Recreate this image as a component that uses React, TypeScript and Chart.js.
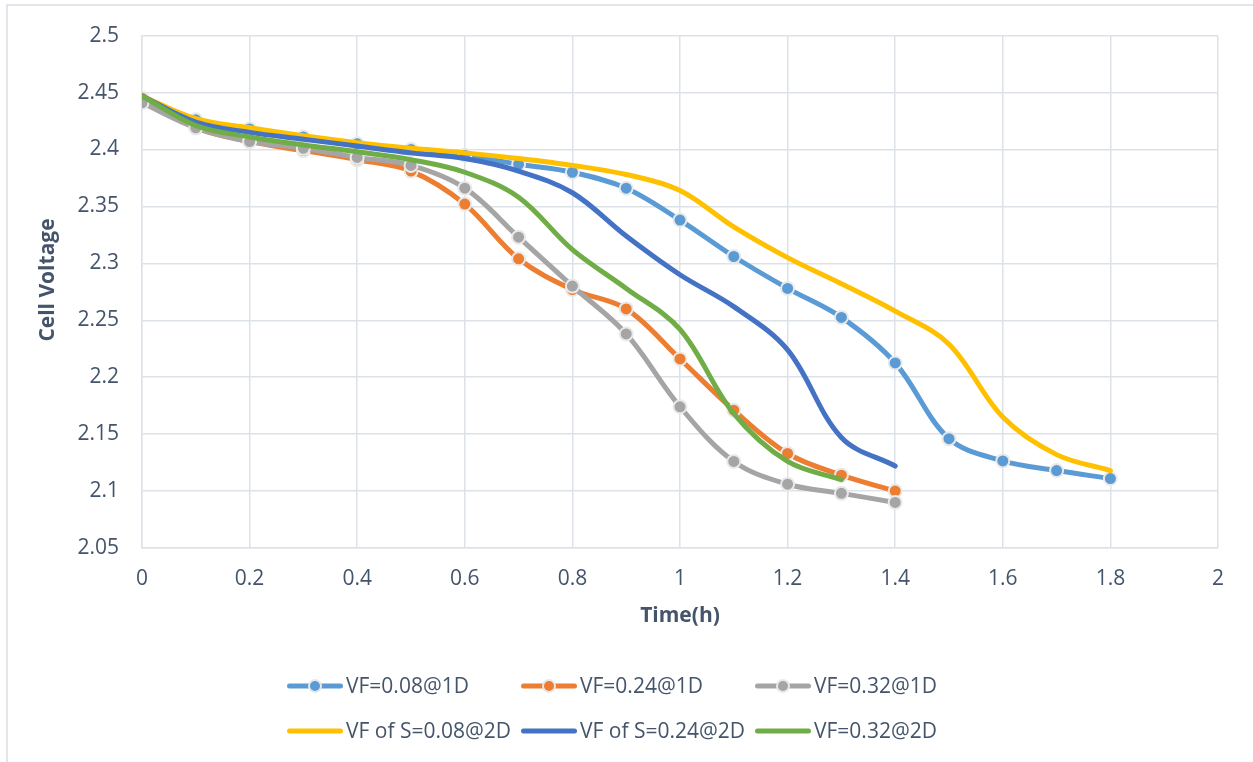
import React, { useEffect, useRef } from "react";
import { Chart, registerables } from "chart.js";

Chart.register(...registerables);

// Time axis (h)
const times = [0, 0.1, 0.2, 0.3, 0.4, 0.5, 0.6, 0.7, 0.8, 0.9, 1.0, 1.1, 1.2, 1.3, 1.4, 1.5, 1.6, 1.7, 1.8];

// Series values (cell voltage)
const vf008_1D = [2.445, 2.426, 2.418, 2.411, 2.405, 2.4, 2.395, 2.387, 2.38, 2.366, 2.338, 2.306, 2.278, 2.2525, 2.2125, 2.146, 2.1265, 2.118, 2.111];
const vf024_1D = [2.445, 2.419, 2.407, 2.399, 2.391, 2.381, 2.352, 2.304, 2.277, 2.26, 2.216, 2.171, 2.133, 2.114, 2.1];
const vf032_1D = [2.441, 2.419, 2.407, 2.401, 2.393, 2.386, 2.366, 2.323, 2.28, 2.238, 2.174, 2.126, 2.106, 2.098, 2.09];
const vfS008_2D = [2.447, 2.427, 2.419, 2.412, 2.406, 2.401, 2.397, 2.392, 2.386, 2.378, 2.364, 2.332, 2.305, 2.282, 2.258, 2.229, 2.165, 2.132, 2.118];
const vfS024_2D = [2.447, 2.424, 2.415, 2.409, 2.403, 2.397, 2.392, 2.381, 2.362, 2.324, 2.29, 2.262, 2.224, 2.147, 2.122];
const vf032_2D = [2.447, 2.421, 2.411, 2.404, 2.398, 2.391, 2.38, 2.358, 2.312, 2.278, 2.242, 2.168, 2.126, 2.11];

const seriesLabels = ["VF=0.08@1D", "VF=0.24@1D", "VF=0.32@1D", "VF of S=0.08@2D", "VF of S=0.24@2D", "VF=0.32@2D"];
const seriesValues = [vf008_1D, vf024_1D, vf032_1D, vfS008_2D, vfS024_2D, vf032_2D];
const seriesColors = ["#5B9BD5", "#ED7D31", "#A5A5A5", "#FFC000", "#4472C4", "#70AD47"];
const seriesMarkers = [true, true, true, false, false, false];

const xTitle = "Time(h)";
const yTitle = "Cell Voltage";

const TEXT = "#44546A";
const GRID = "#DDE1E8";
const FONT = "'Open Sans', 'Noto Sans', sans-serif";
const MARKER_BORDER = "#E9E9E9";

const fmt = (v: number) => String(Number(Number(v).toFixed(2)));

export default function App() {
  const ref = useRef<HTMLCanvasElement>(null);

  useEffect(() => {
    const canvas = ref.current;
    if (!canvas) return;

    const datasets = seriesLabels.map((label, i) => ({
      label,
      data: seriesValues[i].map((v, j) => ({ x: times[j], y: v })),
      borderColor: seriesColors[i],
      backgroundColor: seriesColors[i],
      borderWidth: 5,
      borderCapStyle: "round" as const,
      borderJoinStyle: "round" as const,
      pointRadius: seriesMarkers[i] ? 6.5 : 0,
      pointHoverRadius: seriesMarkers[i] ? 6.5 : 0,
      pointBackgroundColor: seriesColors[i],
      pointBorderColor: MARKER_BORDER,
      pointBorderWidth: 2,
      tension: 0.35,
      fill: false,
      order: seriesLabels.length - i,
    }));

    const decor = {
      id: "decor",
      beforeDraw(chart: any) {
        const c = chart.ctx;
        c.save();
        c.fillStyle = "#ffffff";
        c.fillRect(0, 0, chart.width, chart.height);
        c.strokeStyle = "#D9DDE3";
        c.lineWidth = 1.5;
        c.strokeRect(7, 5, chart.width + 50, chart.height + 50);
        c.restore();
      },
      afterDraw(chart: any) {
        const c = chart.ctx;
        const area = chart.chartArea;
        c.save();
        // axis titles
        c.fillStyle = TEXT;
        c.font = `bold 21px ${FONT}`;
        c.textAlign = "center";
        c.textBaseline = "middle";
        c.fillText(xTitle, (area.left + area.right) / 2, 616);
        c.save();
        c.translate(48, 280);
        c.rotate(-Math.PI / 2);
        c.fillText(yTitle, 0, 0);
        c.restore();

        // legend
        const ds = chart.data.datasets;
        const colX0 = 287;
        const colStep = 234;
        const rowY = [686, 731];
        const symLen = 56;
        c.font = `21px ${FONT}`;
        c.textAlign = "left";
        c.textBaseline = "middle";
        ds.forEach((d: any, i: number) => {
          const col = i % 3;
          const row = Math.floor(i / 3);
          const x = colX0 + col * colStep;
          const y = rowY[row];
          c.strokeStyle = d.borderColor;
          c.lineWidth = 5;
          c.lineCap = "round";
          c.beginPath();
          c.moveTo(x + 2.5, y);
          c.lineTo(x + symLen - 2.5, y);
          c.stroke();
          if (seriesMarkers[i]) {
            c.beginPath();
            c.arc(x + symLen / 2, y, 6, 0, Math.PI * 2);
            c.fillStyle = d.borderColor;
            c.fill();
            c.lineWidth = 2;
            c.strokeStyle = MARKER_BORDER;
            c.stroke();
          }
          c.fillStyle = TEXT;
          c.fillText(d.label, x + symLen + 3, y + 1);
        });
        c.restore();
      },
    };

    const chart = new Chart(canvas, {
      type: "line",
      data: { datasets },
      options: {
        animation: false,
        responsive: false,
        devicePixelRatio: 1,
        parsing: false as any,
        normalized: true,
        layout: { padding: { left: 0, top: 34, right: 35, bottom: 0 } },
        plugins: {
          legend: { display: false },
          tooltip: { enabled: false },
          title: { display: false },
        },
        scales: {
          x: {
            type: "linear",
            min: 0,
            max: 2,
            ticks: {
              stepSize: 0.2,
              callback: (v: any) => fmt(v),
              color: TEXT,
              font: { family: FONT, size: 21 },
              padding: 18,
              maxRotation: 0,
              autoSkip: false,
            },
            grid: { color: GRID, lineWidth: 1.5, drawTicks: false },
            border: { display: true, color: GRID, width: 1.5 },
            afterFit: (s: any) => {
              s.height = 214;
            },
          },
          y: {
            type: "linear",
            min: 2.05,
            max: 2.5,
            ticks: {
              stepSize: 0.05,
              callback: (v: any) => fmt(v),
              color: TEXT,
              font: { family: FONT, size: 21 },
              padding: 23,
              autoSkip: false,
            },
            grid: { color: GRID, lineWidth: 1.5, drawTicks: false },
            border: { display: true, color: GRID, width: 1.5 },
            afterFit: (s: any) => {
              s.width = 142;
            },
          },
        },
      },
      plugins: [decor],
    });

    return () => chart.destroy();
  }, []);

  return (
    <div style={{ position: "absolute", left: 0, top: 0, width: 1253, height: 762 }}>
      <canvas ref={ref} width={1253} height={762} style={{ display: "block" }} />
    </div>
  );
}
